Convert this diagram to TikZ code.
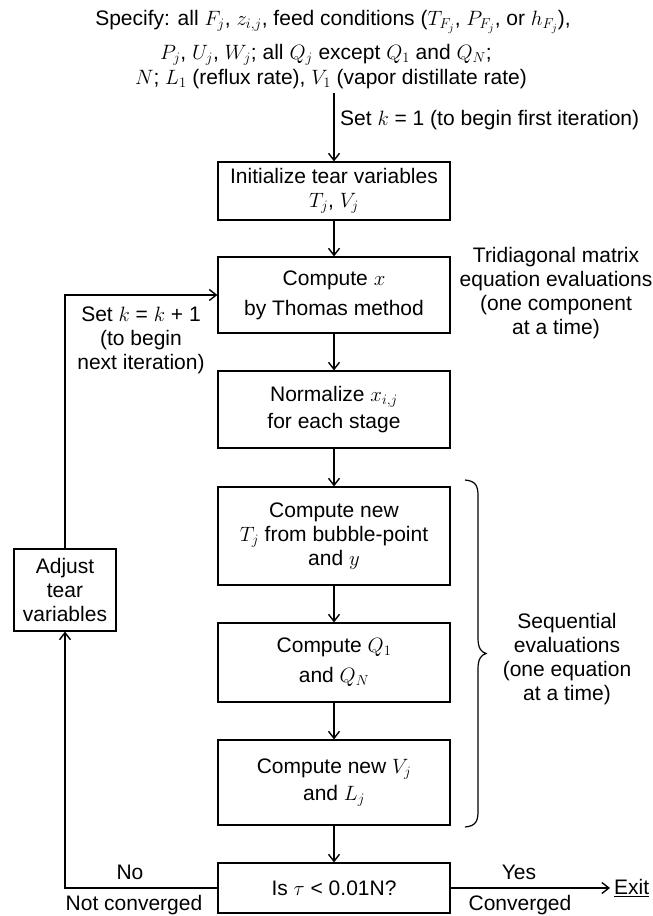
\documentclass[tikz,border=0pt]{standalone}
\usepackage{fontspec}
\setmainfont{Liberation Sans}
\usetikzlibrary{arrows.meta}
\begin{document}
\begin{tikzpicture}[x=1pt,y=-1pt,
  font=\fontsize{21}{24}\selectfont,
  box/.style={draw, line width=1.2pt, minimum width=232pt, align=center, inner sep=0pt},
  arr/.style={line width=1.4pt, -{Straight Barb[length=7pt,width=11pt,line width=1.4pt]}},
  lbl/.style={align=center, inner sep=0pt}]
\useasboundingbox (0,0) rectangle (653,916);
% top specification
\node[lbl] (spec) at (333,22) {Specify: all $F_j$, $z_{i,j}$, feed conditions ($T_{F_j}$, $P_{F_j}$, or $h_{F_j}$),};
\node[lbl] (spec2) at (326,55) {$P_j$, $U_j$, $W_j$; all $Q_j$ except $Q_1$ and $Q_N$;};
\node[lbl] (spec3) at (331,79) {$N$; $L_1$ (reflux rate), $V_1$ (vapor distillate rate)};
\node[lbl, anchor=west] (setk) at (340,120) {Set $k$ = 1 (to begin first iteration)};
% boxes
\node[box, minimum height=58pt] (init) at (334,191) {Initialize tear variables\\$T_j$, $V_j$};
\node[box, minimum height=76pt] (comp) at (334,295) {Compute $x$\\[6pt]by Thomas method};
\node[box, minimum height=77pt] (norm) at (334,409.5) {Normalize $x_{i,j}$\\[3pt]for each stage};
\node[box, minimum height=98pt] (tj) at (334,536) {Compute new\\$T_j$ from bubble-point\\and $y$};
\node[box, minimum height=79pt] (q) at (334,662.5) {Compute $Q_1$\\[6pt]and $Q_N$};
\node[box, minimum height=85pt] (vl) at (334,782.5) {Compute new $V_j$\\[3pt]and $L_j$};
\node[box, minimum height=50pt] (test) at (334,888) {Is $\tau$ < 0.01N?};
\node[box, minimum width=102pt, minimum height=82pt] (adj) at (65,590) {Adjust\\tear\\variables};
% side texts
\node[lbl] (tri) at (556,293) {Tridiagonal matrix\\equation evaluations\\(one component\\at a time)};
\node[lbl] (seq) at (567,659) {Sequential\\evaluations\\(one equation\\at a time)};
\node[lbl] (setk2) at (141,340) {Set $k$ = $k$ + 1\\(to begin\\next iteration)};
\node[lbl] (yes) at (519,872) {Yes};
\node[lbl] (conv) at (520,905) {Converged};
\node[lbl] (no) at (130,872) {No};
\node[lbl] (nconv) at (134,905) {Not converged};
\node[lbl, anchor=west] (exit) at (614,888) {\underline{Exit}};
% connectors
\coordinate (start) at (334,93);
\draw[arr] (start) -- (init.north);
\draw[arr] (init) -- (comp);
\draw[arr] (comp) -- (norm);
\draw[arr] (norm) -- (tj);
\draw[arr] (tj) -- (q);
\draw[arr] (q) -- (vl);
\draw[arr] (vl) -- (test);
\draw[arr, shorten >=4pt] (test.east) -- (exit.west);
\coordinate (lb) at (65,888);
\draw[arr] (test.west) -- (lb) -- (adj.south);
\draw[arr] (adj.north) |- (comp.west);
% brace
\draw[line width=1.2pt] (465,480) .. controls (476,481) and (478,486) .. (478,496)
  -- (478,638) .. controls (478,648) and (481,652) .. (486,653.5)
  .. controls (481,655) and (478,659) .. (478,669)
  -- (478,811) .. controls (478,821) and (476,826) .. (465,827);
\end{tikzpicture}
\end{document}
